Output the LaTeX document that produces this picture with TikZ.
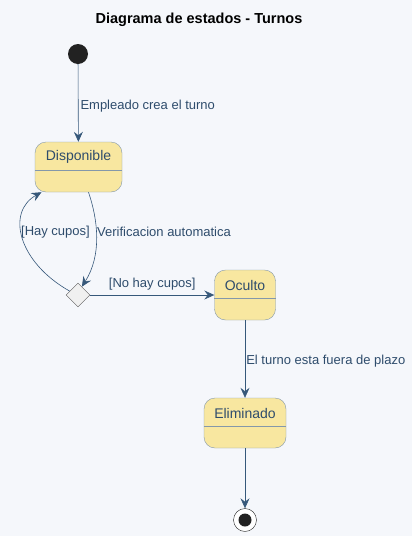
\documentclass[tikz,border=0pt]{standalone}
\usepackage{fontspec}
\setmainfont{Liberation Sans}
\usetikzlibrary{arrows,arrows.meta,shapes,positioning}
\definecolor{stbg}{RGB}{245,247,251}
\definecolor{stfill}{RGB}{248,231,160}
\definecolor{stborder}{RGB}{132,152,170}
\definecolor{sttext}{RGB}{46,76,108}
\definecolor{starrow}{RGB}{54,88,122}
\definecolor{stdot}{RGB}{34,34,34}
\tikzstyle{arrow} = [semithick,-{Stealth[length=10pt,width=9pt,inset=3.5pt]},color=starrow]
\tikzstyle{statebox} = [rectangle, rounded corners=11pt, minimum height=50pt, draw=stborder, fill=stfill, thin]
\tikzstyle{statetext} = [font=\fontsize{14}{16}\selectfont, text=sttext, inner sep=0pt]
\tikzstyle{edgelabel} = [font=\fontsize{13}{15}\selectfont, text=sttext, inner sep=0pt]
\tikzstyle{choice} = [diamond, draw=black!65, fill=black!6, minimum width=24pt, minimum height=24pt, inner sep=0pt, thin]

\begin{document}
\begin{tikzpicture}[x=1pt,y=-1pt]
\useasboundingbox[fill=stbg] (0,0) rectangle (412,536);
\node[font=\fontsize{14.5}{17}\selectfont\bfseries] (title) at (199,20) {Diagrama de estados - Turnos};

% states
\node[circle, fill=stdot, minimum size=20pt, inner sep=0pt] (start) at (78,54) {};
\node[statebox, minimum width=87pt] (disp) at (78.5,167) {};
\node[statetext] at (78.5,157) {Disponible};
\draw[stborder, thin] ([yshift=-28pt]disp.north west) -- ([yshift=-28pt]disp.north east);
\node[choice] (dia) at (78,295) {};
\node[statebox, minimum width=61pt] (ocul) at (245,295) {};
\node[statetext] at (245,285) {Oculto};
\draw[stborder, thin] ([yshift=-28pt]ocul.north west) -- ([yshift=-28pt]ocul.north east);
\node[statebox, minimum width=82pt] (elim) at (245,423) {};
\node[statetext] at (245,413) {Eliminado};
\draw[stborder, thin] ([yshift=-28pt]elim.north west) -- ([yshift=-28pt]elim.north east);
\node[circle, draw=stdot, fill=white, minimum size=23pt, inner sep=0pt, thin] (stop) at (245,520) {};
\node[circle, fill=stdot, minimum size=13pt, inner sep=0pt] (stopdot) at (stop) {};

% transitions
\draw[arrow] (start) -- node[edgelabel, right=2pt, yshift=-3pt] {Empleado crea el turno} (disp);
\draw[arrow] ([xshift=10pt]disp.south) .. controls (98,220) and (102,255) .. (dia.65);
\node[edgelabel, anchor=west] (verif) at (97,232) {Verificacion automatica};
\draw[arrow] (dia.155) .. controls (18,262) and (6,212) .. ([xshift=-37pt]disp.south);
\node[edgelabel, anchor=east] (hay) at (90,232) {[Hay cupos]};
\draw[arrow] (dia) -- node[edgelabel, above=5pt] {[No hay cupos]} (ocul);
\draw[arrow] (ocul) -- node[edgelabel, right=1pt, yshift=-2pt] {El turno esta fuera de plazo} (elim);
\draw[arrow] (elim) -- (stop);
\end{tikzpicture}
\end{document}
